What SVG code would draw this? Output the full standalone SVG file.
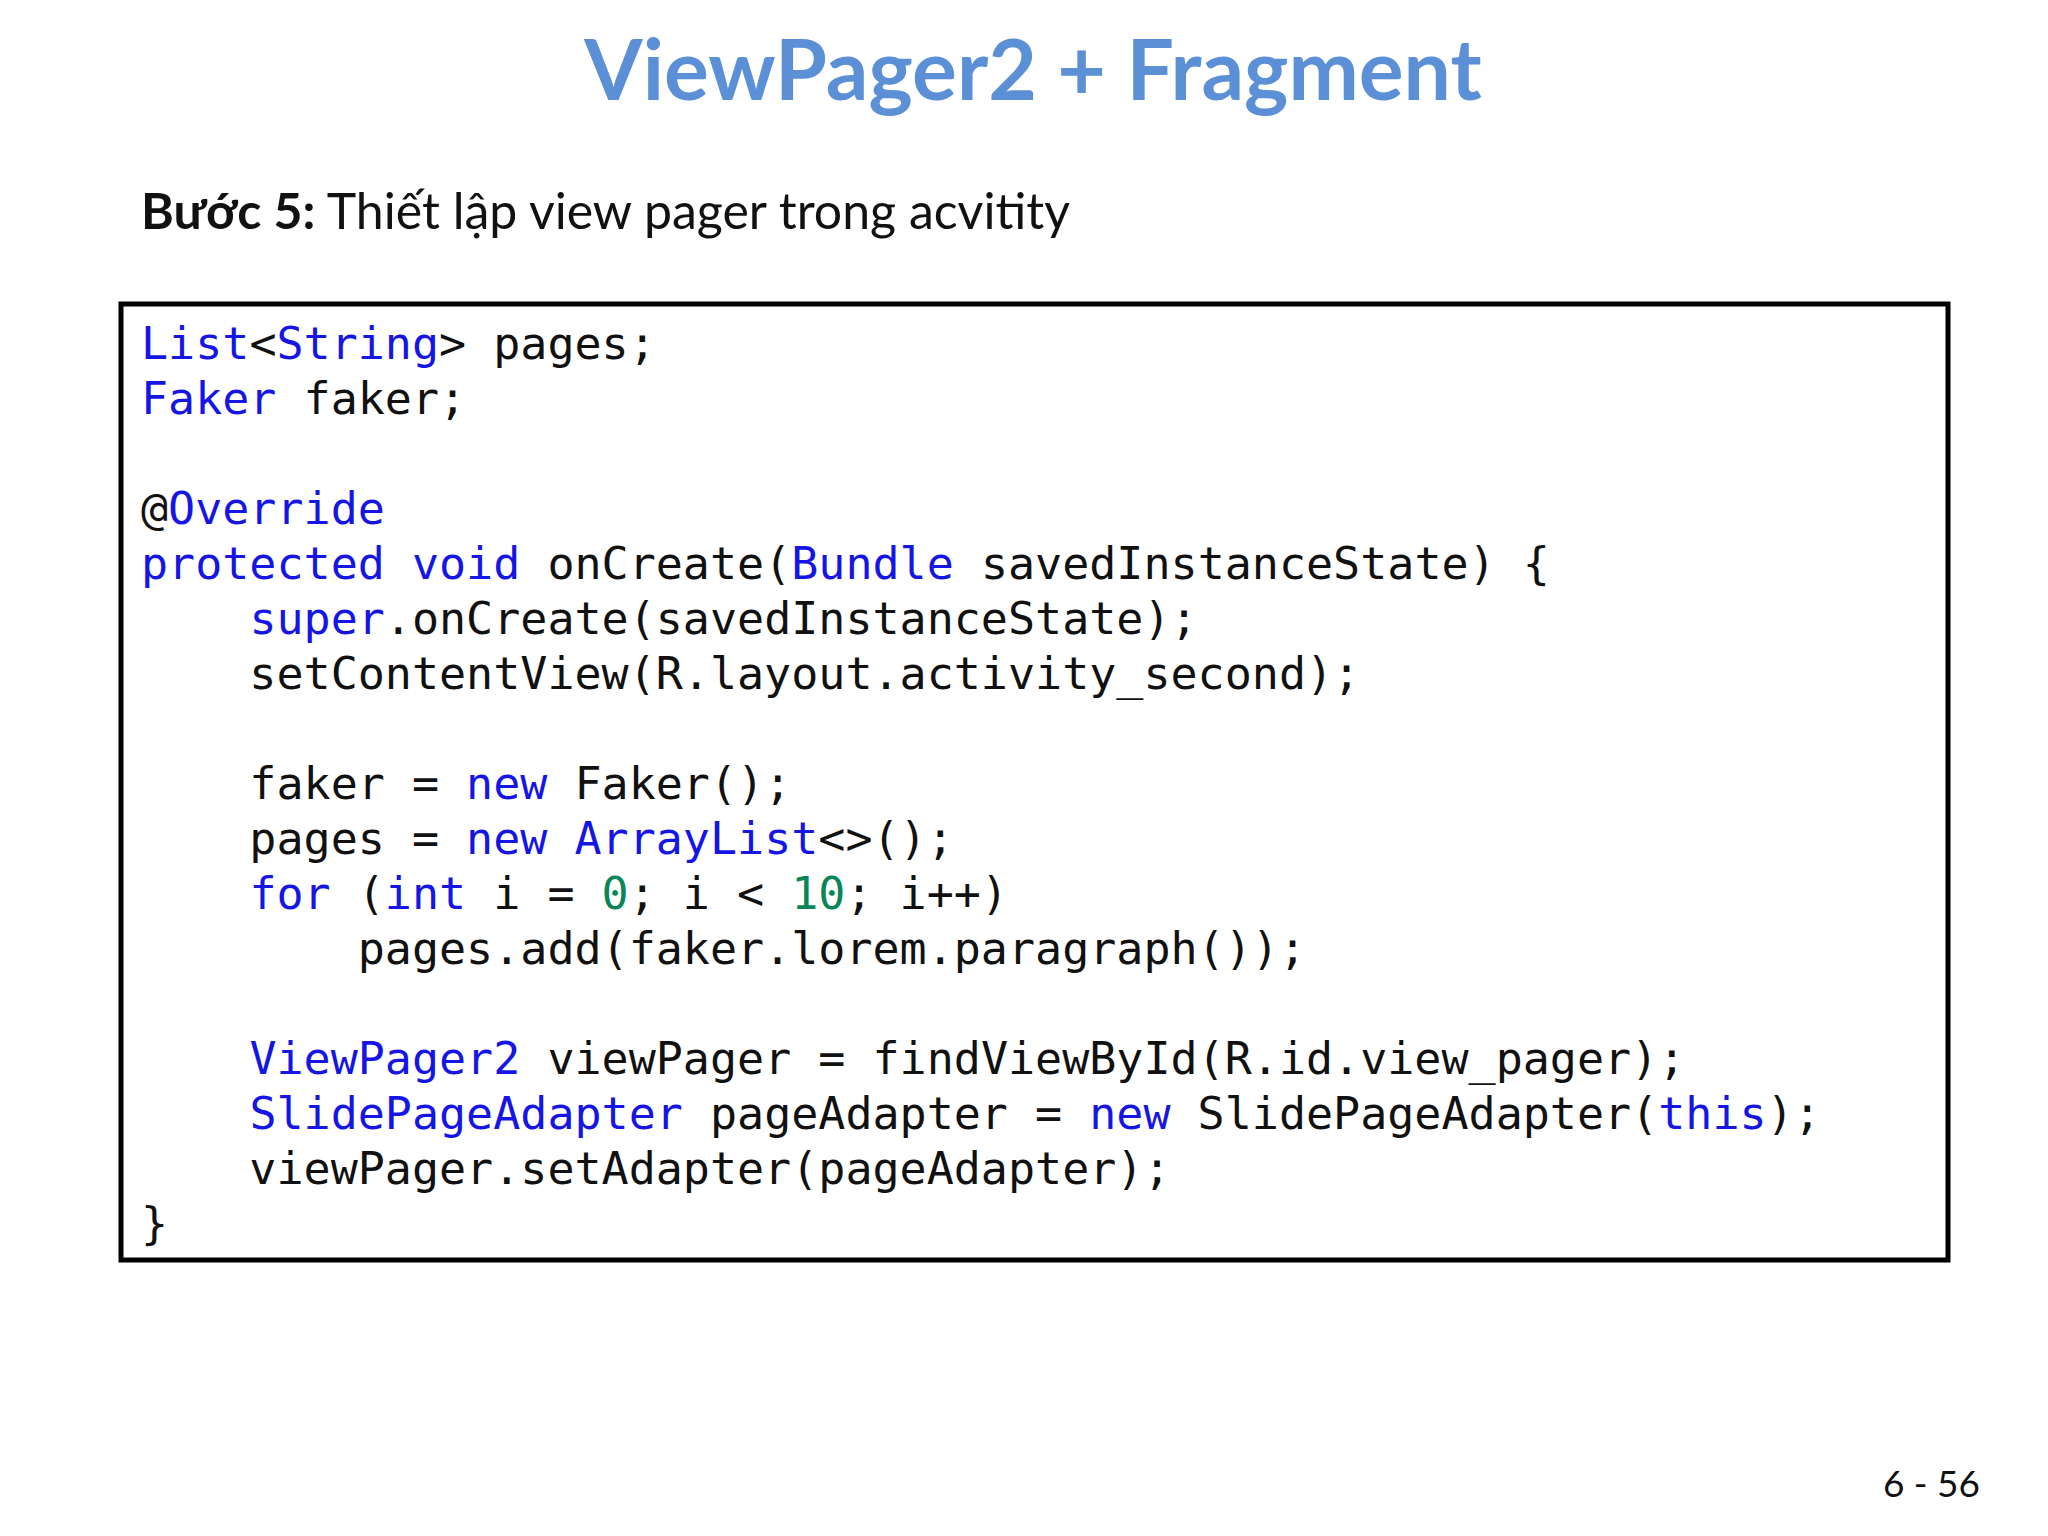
<svg xmlns="http://www.w3.org/2000/svg" width="2048" height="1536" viewBox="0 0 2048 1536">
<style>
.code{font-family:"DejaVu Sans Mono",monospace;font-size:45px;fill:#111;white-space:pre}
.k{fill:#1515e6}
.n{fill:#098658}
</style>
<rect width="2048" height="1536" fill="#fff"/>
<g id="title"><text x="1033" y="100" text-anchor="middle" font-family="Lato, sans-serif" font-weight="bold" font-size="84" fill="#5b8fd6">ViewPager2 + Fragment</text></g>
<g id="step"><text x="141" y="229" font-family="Lato, sans-serif" font-size="50" fill="#111"><tspan font-weight="bold">Bước 5:</tspan> Thiết lập view pager trong acvitity</text></g>
<g id="codebox">
<rect x="121" y="304" width="1827" height="956" fill="#fff" stroke="#000" stroke-width="5"/>
<text class="code" xml:space="preserve">
<tspan x="141" y="359"><tspan class="k">List</tspan>&lt;<tspan class="k">String</tspan>&gt; pages;</tspan>
<tspan x="141" y="414"><tspan class="k">Faker</tspan> faker;</tspan>
<tspan x="141" y="524">@<tspan class="k">Override</tspan></tspan>
<tspan x="141" y="579"><tspan class="k">protected</tspan> <tspan class="k">void</tspan> onCreate(<tspan class="k">Bundle</tspan> savedInstanceState) {</tspan>
<tspan x="141" y="634">    <tspan class="k">super</tspan>.onCreate(savedInstanceState);</tspan>
<tspan x="141" y="689">    setContentView(R.layout.activity_second);</tspan>
<tspan x="141" y="799">    faker = <tspan class="k">new</tspan> Faker();</tspan>
<tspan x="141" y="854">    pages = <tspan class="k">new</tspan> <tspan class="k">ArrayList</tspan>&lt;&gt;();</tspan>
<tspan x="141" y="909">    <tspan class="k">for</tspan> (<tspan class="k">int</tspan> i = <tspan class="n">0</tspan>; i &lt; <tspan class="n">10</tspan>; i++)</tspan>
<tspan x="141" y="964">        pages.add(faker.lorem.paragraph());</tspan>
<tspan x="141" y="1074">    <tspan class="k">ViewPager2</tspan> viewPager = findViewById(R.id.view_pager);</tspan>
<tspan x="141" y="1129">    <tspan class="k">SlidePageAdapter</tspan> pageAdapter = <tspan class="k">new</tspan> SlidePageAdapter(<tspan class="k">this</tspan>);</tspan>
<tspan x="141" y="1184">    viewPager.setAdapter(pageAdapter);</tspan>
<tspan x="141" y="1239">}</tspan>
</text>
</g>
<g id="page"><text x="1980" y="1497" text-anchor="end" font-family="Lato, sans-serif" font-size="37" fill="#111">6 - 56</text></g>
</svg>
